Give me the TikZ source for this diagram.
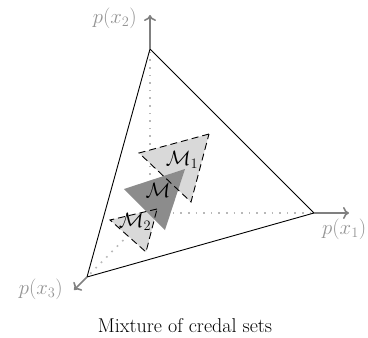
\documentclass[tikz,border=0pt]{standalone}
\usepackage{fontspec}
\usetikzlibrary{arrows.meta}
\begin{document}
\begin{tikzpicture}[x=1pt,y=-1pt,
  axis/.style={draw=black!50,line width=1.6pt,-{To[length=6pt,width=12pt,line width=1.6pt]}},
  simplex/.style={draw=black,line width=0.9pt,line join=round},
  guide/.style={draw=black!28,line width=1.6pt,dash pattern=on 1.6pt off 6pt},
  lightset/.style={fill=black!15},
  darkset/.style={fill=black!45},
  setborder/.style={draw=black,line width=0.9pt,dash pattern=on 7pt off 4pt},
  axlabel/.style={text=black!42,font=\huge,inner sep=0pt},
  setlabel/.style={font=\huge,inner sep=0pt}]
\useasboundingbox (0,0) rectangle (368,338);
% vertices
\coordinate (O) at (150,213);
\coordinate (V2) at (150,49);
\coordinate (V1) at (314,213);
\coordinate (V3) at (87,277);
\coordinate (T2) at (150,15);
\coordinate (T1) at (349,213);
\coordinate (T3) at (74,290);
% guides
\draw[guide] (O) -- (V2);
\draw[guide] (O) -- (V1);
\draw[guide] (O) -- (V3);
% simplex
\draw[simplex] (V2) -- (V1) -- (V3) -- cycle;
% axes
\draw[axis] (V2) -- (T2);
\draw[axis] (V1) -- (T1);
\draw[axis] (V3) -- (T3);
\node[axlabel,anchor=east] (L2) at (137,18) {$p(x_2)$};
\node[axlabel,anchor=west] (L1) at (322,229) {$p(x_1)$};
\node[axlabel,anchor=east] (L3) at (63,289) {$p(x_3)$};
% credal sets
\coordinate (A1) at (209,134); \coordinate (B1) at (139,153); \coordinate (C1) at (191,202);
\coordinate (A) at (185,169); \coordinate (B) at (124,189); \coordinate (C) at (165,230);
\coordinate (A2) at (157,209); \coordinate (B2) at (110,220); \coordinate (C2) at (146,252);
\fill[lightset] (A1) -- (B1) -- (C1) -- cycle;
\fill[lightset] (A2) -- (B2) -- (C2) -- cycle;
\fill[darkset] (A) -- (B) -- (C) -- cycle;
\draw[setborder] (A1) -- (B1) -- (C1) -- cycle;
\draw[setborder] (A2) -- (B2) -- (C2) -- cycle;
\node[setlabel] (M1) at (182,160) {$\mathcal{M}_1$};
\node[setlabel] (M) at (158,190) {$\mathcal{M}$};
\node[setlabel] (M2) at (135,222) {$\mathcal{M}_2$};
% caption
\node[anchor=base,inner sep=0pt,font=\fontsize{20}{24}\selectfont] (cap) at (185,332) {Mixture of credal sets};
\end{tikzpicture}
\end{document}
